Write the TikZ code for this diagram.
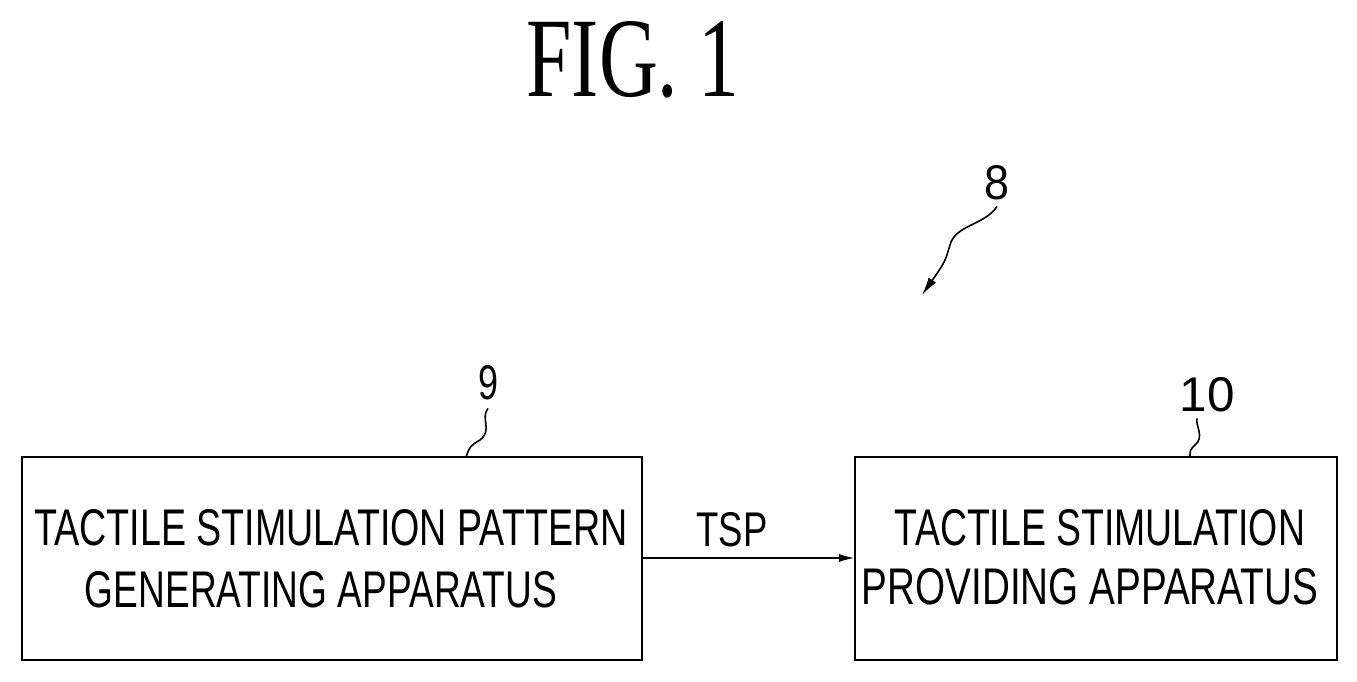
\documentclass[tikz,border=0pt]{standalone}
\usetikzlibrary{arrows.meta}
\usepackage{fontspec}
\setmainfont{Liberation Sans}
\usepackage{graphicx}
\newcommand{\fit}[3]{\resizebox{#1pt}{#2pt}{#3}}
\begin{document}
\begin{tikzpicture}[x=1pt,y=-1pt,
  box/.style={draw,line width=2pt},
  lbl/.style={inner sep=0pt,anchor=center},
  lead/.style={line width=1.6pt}]
\useasboundingbox (0,0) rectangle (1357,682);
\node[lbl] (fig) at (633,60) {\fontspec{Liberation Serif}\fit{213}{75}{FIG. 1}};
\draw[box] (22,457) rectangle (642,660);
\coordinate (lbR) at (642,558);
\draw[box] (855,457) rectangle (1337,660);
\coordinate (rbL) at (855,558);
\node[lbl] (l1) at (331,528) {\fit{593}{36}{TACTILE STIMULATION PATTERN}};
\node[lbl] (l2) at (321,590) {\fit{472}{36}{GENERATING APPARATUS}};
\node[lbl] (r1) at (1100,528) {\fit{410}{36}{TACTILE STIMULATION}};
\node[lbl] (r2) at (1090,587) {\fit{456}{36}{PROVIDING APPARATUS}};
\draw[line width=2pt,-{Latex[length=16pt,width=8pt]}] (lbR) -- (rbL);
\node[lbl] (tsp) at (732,530) {\fit{71}{34}{TSP}};
\node[lbl] (n9) at (488,383) {\fit{20}{34}{9}};
\node[lbl] (n10) at (1207,395) {\fit{55}{34}{10}};
\node[lbl] (n8) at (997,183) {\fit{25}{34}{8}};
\draw[lead] (n9.south) ++(0,8) .. controls (480,418) and (493,430) .. (480,440) .. controls (470,446) .. (466,457);
\draw[lead] (n10.south) ++(-10,6) .. controls (1195,425) and (1205,437) .. (1195,445) .. controls (1190,450) .. (1190,457);
\draw[lead,-{Latex[length=18pt,width=9pt]}] (n8.south) ++(0,6) .. controls (985,225) and (955,225) .. (950,245) .. controls (945,262) .. (922,295);
\end{tikzpicture}
\end{document}
